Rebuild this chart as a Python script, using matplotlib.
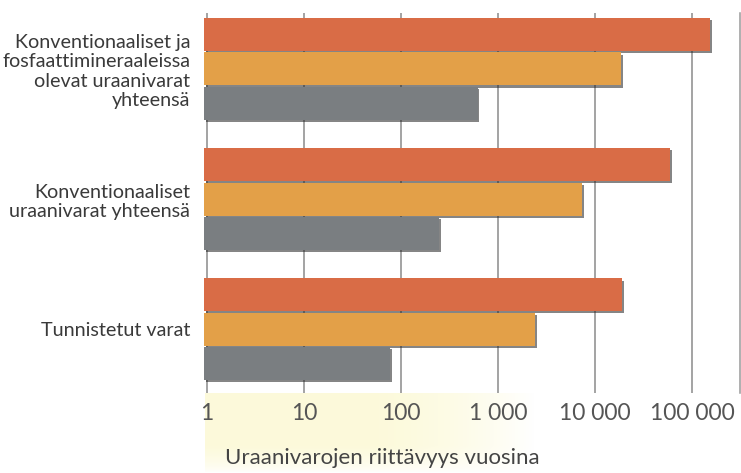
import numpy as np
import matplotlib
matplotlib.use("Agg")
import matplotlib.pyplot as plt
import matplotlib.patheffects as pe

plt.rcParams['font.family'] = ['Lato', 'DejaVu Sans']

# data (years)
groups = ["Konventionaaliset ja\nfosfaattimineraaleissa\nolevat uraanivarat\nyhteensä",
          "Konventionaaliset\nuraanivarat yhteensä",
          "Tunnistetut varat"]
red_vals = [155000, 60000, 19000]
orange_vals = [18600, 7400, 2400]
gray_vals = [620, 247, 77]
tick_vals = [1, 10, 100, 1000, 10000, 100000]
tick_labels = ["1", "10", "100", "1 000", "10 000", "100 000"]
xlabel = "Uraanivarojen riittävyys vuosina"

colors = ["#D96C46", "#E3A048", "#7A7E81"]

W, H = 741, 473
fig = plt.figure(figsize=(W / 100, H / 100), dpi=100)

# light yellow band behind the axis title
bg = fig.add_axes([205 / W, 0, 335 / W, 80 / H])
gx = np.linspace(0, 1, 200)
gy = np.linspace(0, 1, 60)
gxx, gyy = np.meshgrid(gx, gy)
alpha = np.clip(1.15 - gxx ** 3 * 1.2, 0, 1) * np.clip(gyy * 3, 0, 1) ** 0.6
img = np.zeros((60, 200, 4))
img[..., 0] = 0.99
img[..., 1] = 0.98
img[..., 2] = 0.84
img[..., 3] = alpha * 0.9
bg.imshow(img[::-1], aspect="auto", extent=[0, 1, 0, 1])
bg.axis("off")

ax = fig.add_axes([204 / W, 1 - 393 / H, 536 / W, 380 / H])
ax.set_xscale("log")
ax.set_xlim(10 ** -0.03, 10 ** 5.495)
ax.set_ylim(2.49, -0.43)

y = np.arange(len(groups))
pitch = 0.265
h = 0.253
left = ax.get_xlim()[0]
shadow = [pe.SimplePatchShadow(offset=(1.2, -1.6), shadow_rgbFace="#222222", alpha=0.55), pe.Normal()]
for vals, off, c in zip([red_vals, orange_vals, gray_vals], [-pitch, 0, pitch], colors):
    bars = ax.barh(y + off, np.array(vals) - left, left=left, height=h, color=c, zorder=3)
    for b in bars:
        b.set_path_effects(shadow)

for t in tick_vals:
    ax.axvline(t, color="#8a8a8a", lw=1.1, zorder=1)

ax.set_xticks(tick_vals)
ax.set_xticklabels(tick_labels)
ax.xaxis.set_minor_locator(matplotlib.ticker.NullLocator())
ax.tick_params(axis="x", length=0, pad=7, labelsize=16.5, labelcolor="#555555")
ax.set_yticks(y)
ax.set_yticklabels(groups, fontsize=14.2, color="#3a3a3a", linespacing=1.17)
ax.tick_params(axis="y", length=0, pad=10)
for s in ["top", "left", "bottom"]:
    ax.spines[s].set_visible(False)
ax.spines["right"].set_color("#9a9a9a")
ax.spines["right"].set_linewidth(1.1)

fig.text(225 / W, 1 - 458 / H, xlabel, fontsize=16, color="#444444", va="center")

fig.savefig("out.png", dpi=100)
